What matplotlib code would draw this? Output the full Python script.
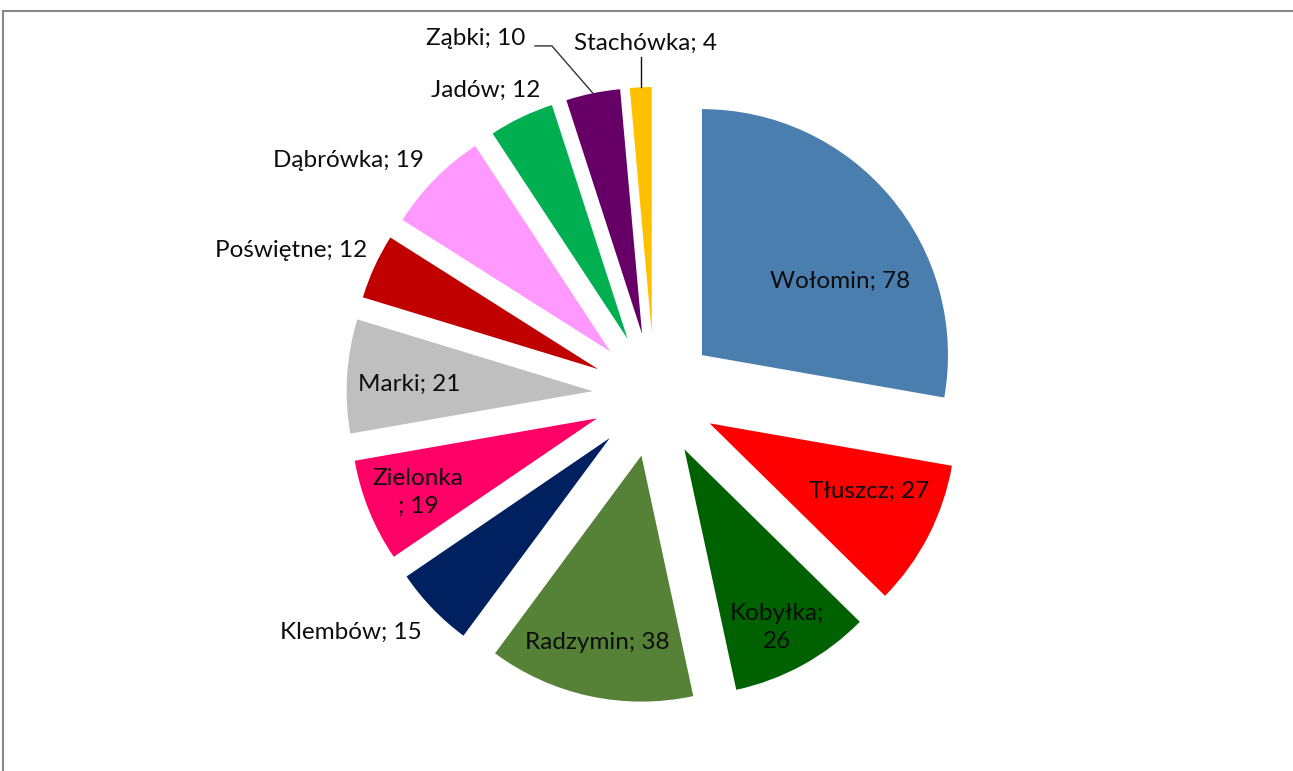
import numpy as np
import matplotlib.pyplot as plt
from matplotlib.patches import Rectangle

plt.rcParams['font.family'] = ['Lato', 'DejaVu Sans']

names = ['Wołomin', 'Tłuszcz', 'Kobyłka', 'Radzymin', 'Klembów', 'Zielonka',
         'Marki', 'Poświętne', 'Dąbrówka', 'Jadów', 'Ząbki', 'Stachówka']
values = [78, 27, 26, 38, 15, 19, 21, 12, 19, 12, 10, 4]
colors = ['#4A7EAF', '#FF0000', '#006100', '#558236', '#002060', '#FF0066',
          '#BFBFBF', '#C00000', '#FF99FF', '#00B050', '#660066', '#FFC000']

# how excel wrapped some of the labels
wraps = {'Kobyłka': '{};\n{}', 'Zielonka': '{}\n; {}'}

# label placement: (angle clockwise from 12 o'clock, distance in pie radii)
lab_pos = [(58.4, 0.885), (114.1, 0.955), (152.2, 1.067), (193.1, 1.031),
           (232.0, 1.565), (247.7, 1.039), (272.6, 0.999), (291.7, 1.59),
           (307.4, 1.567), (331.1, 1.416), (333.4, 1.62), (358.5, 1.431)]

W, H = 1293, 771
cx, cy, R = 654.5, 395, 246.0   # pie centre / radius in pixels

fig = plt.figure(figsize=(W / 100, H / 100), dpi=100)
ax = fig.add_axes([0, 0, 1, 1])

wedges, _ = ax.pie(values, colors=colors, startangle=90, counterclock=False,
                   explode=[0.252] * len(values), radius=1,
                   wedgeprops=dict(linewidth=0))
# pie() resets the limits, so set them afterwards
ax.set_aspect('auto')
ax.set_xlim(-cx / R, (W - cx) / R)
ax.set_ylim(-(H - cy) / R, cy / R)
ax.axis('off')

for i, n in enumerate(names):
    fmt = wraps.get(n, '{}; {}')
    a, r = lab_pos[i]
    x = r * np.sin(np.radians(a))
    y = r * np.cos(np.radians(a))
    ax.text(x, y, fmt.format(n, values[i]), ha='center', va='center',
            fontsize=17.5, color='#0D0D0D', linespacing=1.4)

# leader lines for the two small slices
def outer_mid(w):
    t = np.radians((w.theta1 + w.theta2) / 2)
    return w.center[0] + w.r * np.cos(t), w.center[1] + w.r * np.sin(t)

x0, y0 = outer_mid(wedges[10])
ax.plot([x0, -0.417, -0.486], [y0, 1.419, 1.419], color='#333333', lw=1)
x0, y0 = outer_mid(wedges[11])
ax.plot([x0, x0], [y0, 1.374], color='#111111', lw=1)

# chart border
fig.patches.append(Rectangle((3 / W, -0.1), 1.2, 1.1 - 11 / H,
                             transform=fig.transFigure, fill=False,
                             edgecolor='#888888', lw=1.5))

fig.savefig('out.png', dpi=100, facecolor='white')
